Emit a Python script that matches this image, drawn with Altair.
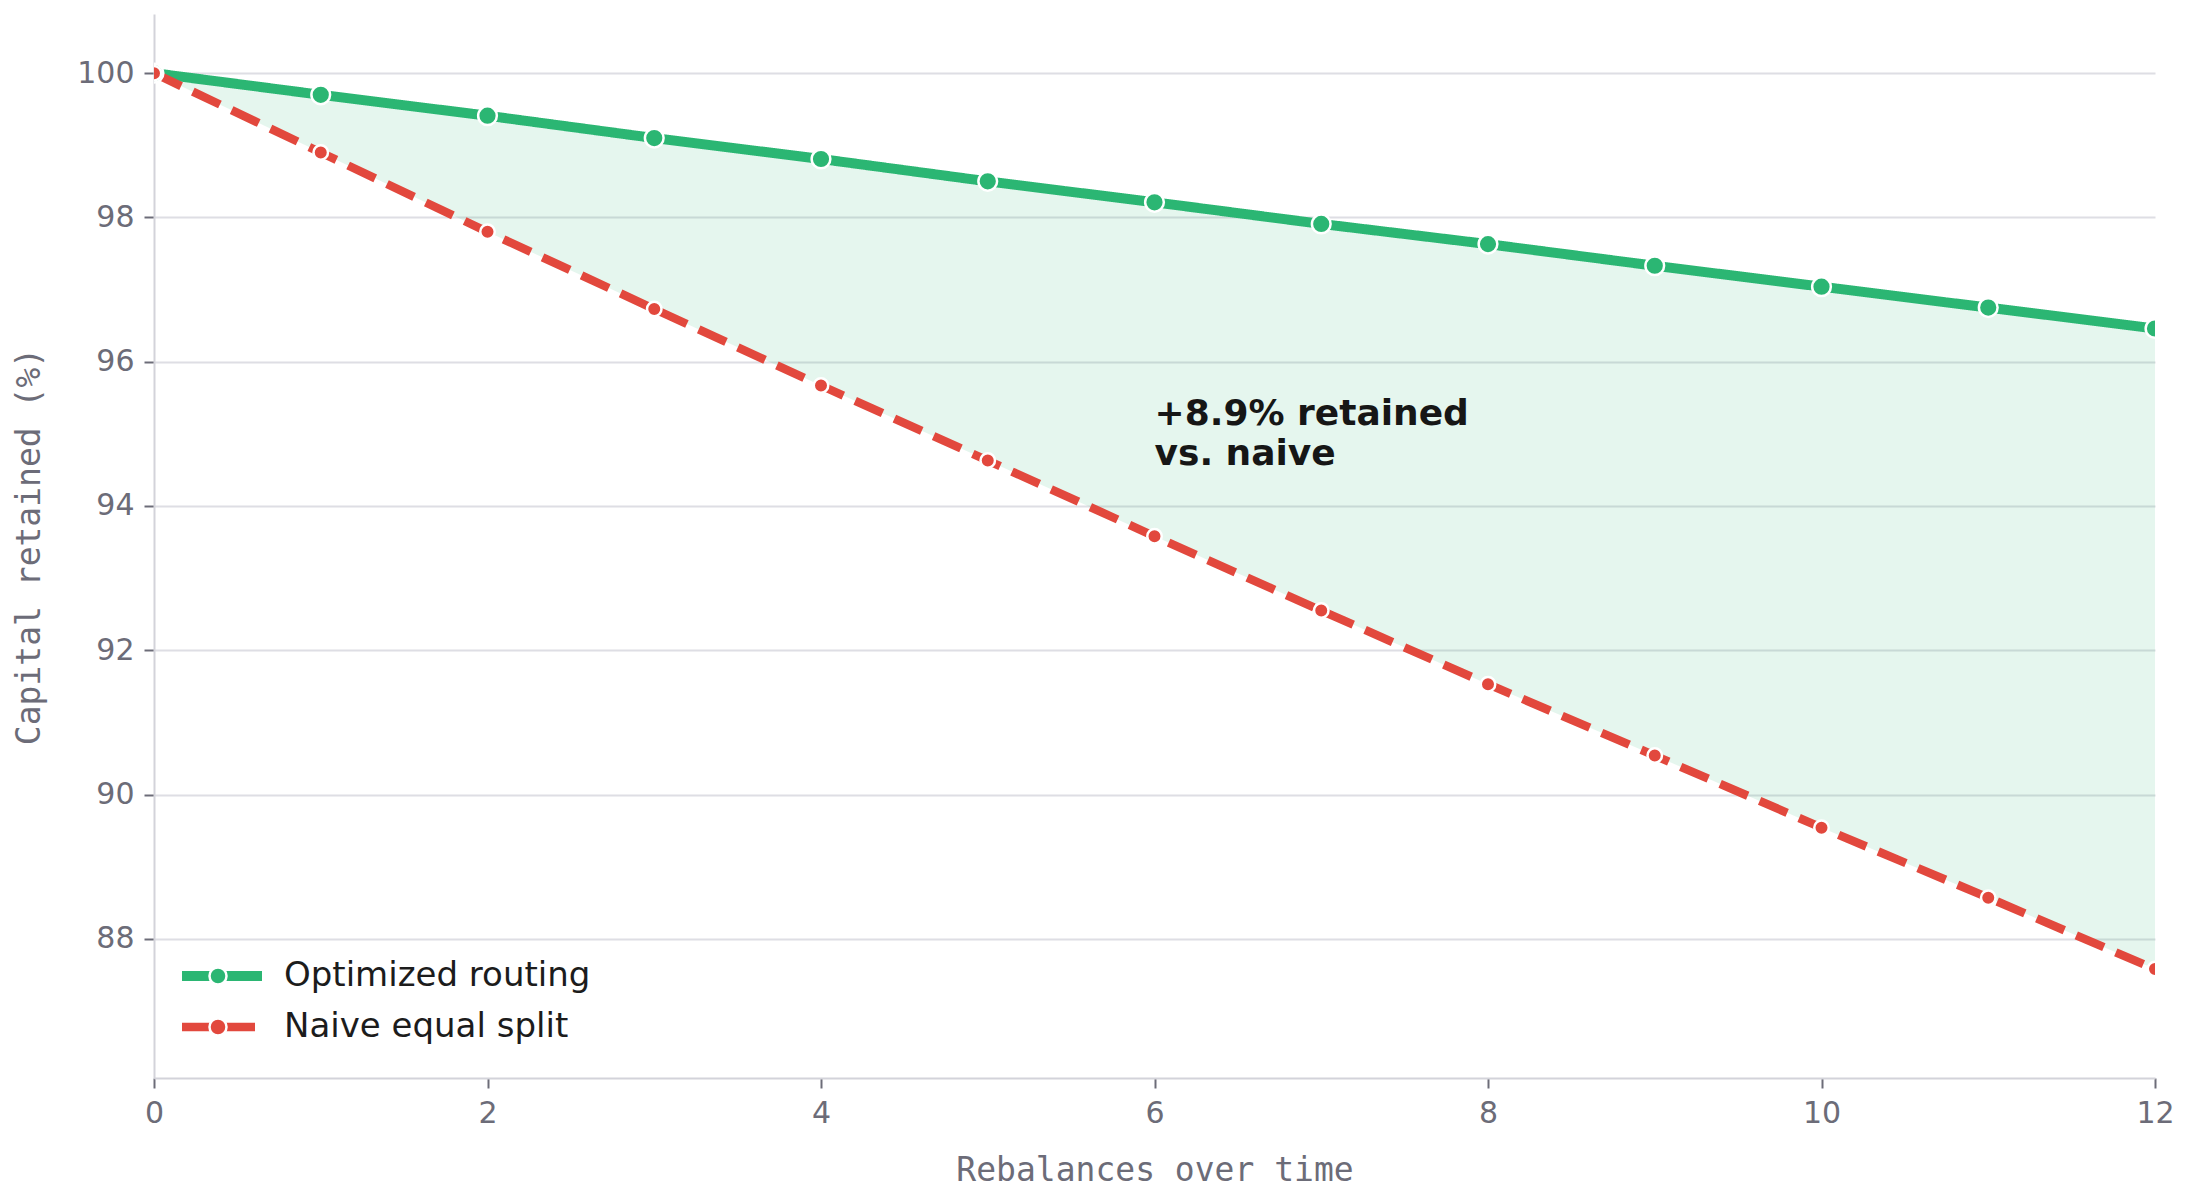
import altair as alt
import pandas as pd

# ---- data ----
steps = list(range(13))
optimized = [100.0, 99.70, 99.41, 99.10, 98.81, 98.50, 98.21, 97.91, 97.63, 97.33, 97.04, 96.75, 96.46]
naive = [100.0, 98.90, 97.80, 96.73, 95.67, 94.63, 93.58, 92.55, 91.53, 90.54, 89.54, 88.57, 87.58]
series_names = ["Optimized routing", "Naive equal split"]
series_colors = ["#2bb673", "#e2483d"]
x_ticks = [0, 2, 4, 6, 8, 10, 12]
y_ticks = [88, 90, 92, 94, 96, 98, 100]
annotation_lines = ["+8.9% retained", "vs. naive"]
annotation_x = [6]
annotation_y = [95]

wide = pd.DataFrame({"step": steps, "optimized": optimized, "naive": naive})
long = pd.DataFrame({
    "step": steps + steps,
    "value": optimized + naive,
    "series": [series_names[0]] * len(steps) + [series_names[1]] * len(steps),
})
long["series_pt"] = long["series"]
long["series_sz"] = long["series"]
ann = pd.DataFrame({"x": annotation_x, "y": annotation_y, "text": ["\n".join(annotation_lines)]})

TICK_GRAY = "#6c6c78"
FONT = "DejaVu Sans"
MONO = "DejaVu Sans Mono"

x_scale = alt.Scale(domain=[0, 12], nice=False)
y_scale = alt.Scale(domain=[86.07, 100.82], nice=False, zero=False)
x_axis = alt.Axis(values=x_ticks, title="Rebalances over time", grid=False, format="d", labelFlush=False)
y_axis = alt.Axis(values=y_ticks, title="Capital retained (%)", grid=True, format="d", labelFlush=False)

X = alt.X("step:Q", scale=x_scale, axis=x_axis)

line_legend = alt.Legend(
    orient="none", legendX=23, legendY=945, title=None,
    symbolType="stroke", symbolSize=6400, clipHeight=34, rowPadding=17,
    labelFontSize=34, labelFont=FONT, labelColor="#1c1c1c", labelOffset=17, labelLimit=0,
    padding=0, symbolOpacity=1,
)
pt_legend = alt.Legend(
    orient="none", legendX=47, legendY=945, title=None,
    symbolType="circle", symbolSize=290, clipHeight=34, rowPadding=17,
    labelFontSize=34, labelFont=FONT, labelExpr="''", labelOffset=0,
    padding=0, symbolStrokeColor="white", symbolStrokeWidth=2.5, symbolOpacity=1,
)

area = alt.Chart(wide).mark_area(color=series_colors[0], opacity=0.12, clip=True).encode(
    x=X,
    y=alt.Y("optimized:Q", scale=y_scale, axis=y_axis),
    y2="naive:Q",
)

lines = alt.Chart(long).mark_line(clip=True).encode(
    x=X,
    y=alt.Y("value:Q", scale=y_scale, axis=y_axis),
    color=alt.Color("series:N", scale=alt.Scale(domain=series_names, range=series_colors), legend=line_legend),
    strokeDash=alt.StrokeDash("series:N", scale=alt.Scale(domain=series_names, range=[[1, 0], [30, 13]]), legend=line_legend),
    strokeWidth=alt.StrokeWidth("series:N", scale=alt.Scale(domain=series_names, range=[10, 8.5]), legend=line_legend),
)

points = alt.Chart(long).mark_point(filled=True, clip=True, stroke="white", strokeWidth=2.5, opacity=1).encode(
    x=X,
    y=alt.Y("value:Q", scale=y_scale, axis=y_axis),
    fill=alt.Fill("series_pt:N", sort=series_names, scale=alt.Scale(range=series_colors), legend=pt_legend),
    size=alt.Size("series_sz:N", sort=series_names, scale=alt.Scale(range=[350, 210]), legend=None),
)

text = alt.Chart(ann).mark_text(
    align="left", baseline="middle", fontSize=36, fontWeight="bold", font=FONT,
    color="#161616", lineBreak="\n", lineHeight=40, dy=-20,
).encode(
    x=alt.X("x:Q", scale=x_scale, axis=x_axis),
    y=alt.Y("y:Q", scale=y_scale, axis=y_axis),
    text="text:N",
)

chart = alt.layer(area, lines, points, text).properties(
    width=2001, height=1064,
    autosize=alt.AutoSizeParams(type="none"),
    padding={"left": 154, "top": 14, "right": 35, "bottom": 125},
    background="white",
).configure_view(stroke=None).configure_axis(
    domainColor="#d3d3da", domainWidth=2,
    tickColor=TICK_GRAY, tickWidth=2, tickSize=10,
    labelFont=FONT, labelFontSize=30, labelColor=TICK_GRAY, labelPadding=10,
    titleFont=MONO, titleFontSize=33, titleColor=TICK_GRAY, titleFontWeight="normal",
    gridColor="#dedee4", gridWidth=2,
).configure_axisX(titlePadding=26).configure_axisY(titlePadding=30)

chart.save("out.html", embed_options={"renderer": "svg", "actions": False})
